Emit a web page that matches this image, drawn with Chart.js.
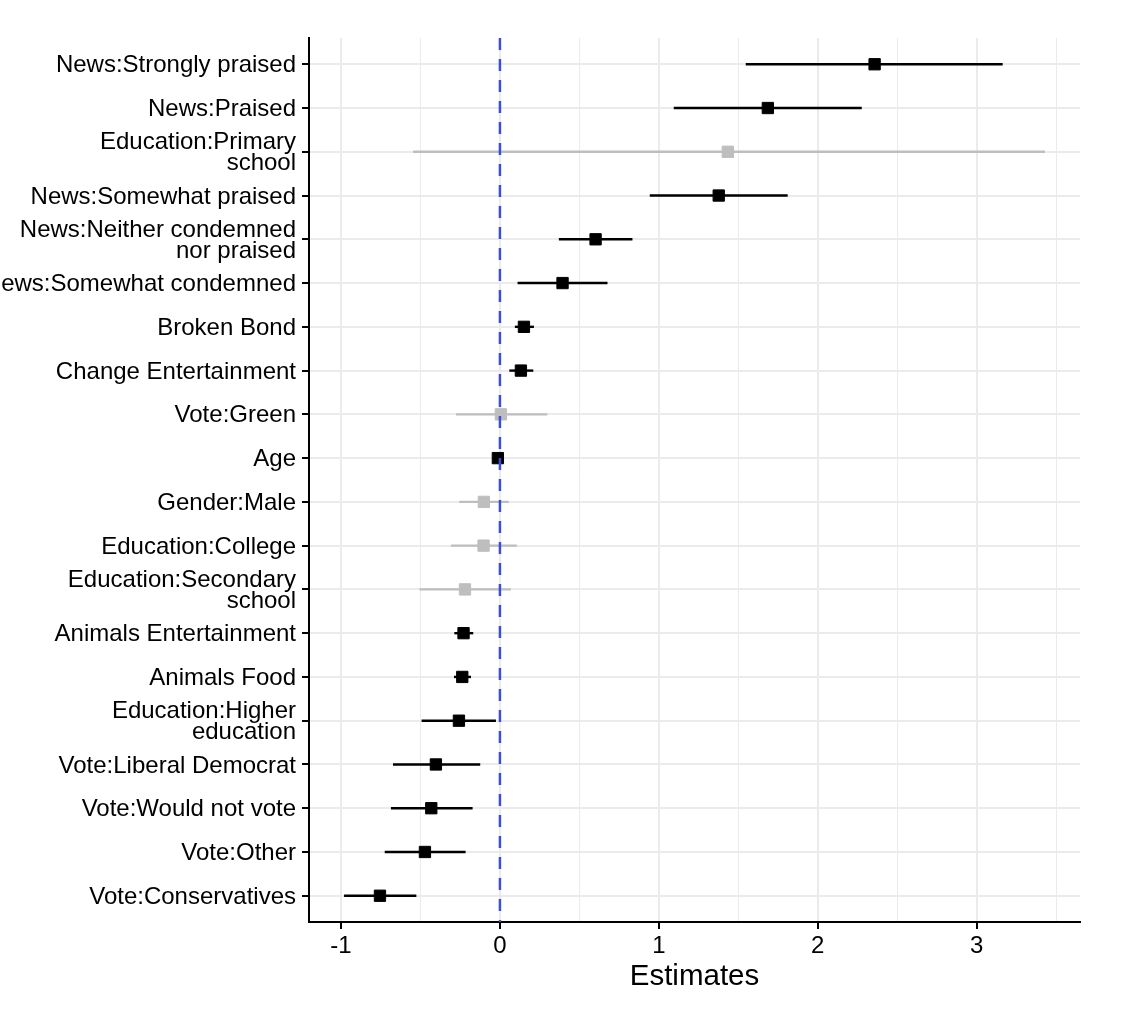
<!DOCTYPE html>
<html>
<head>
<meta charset="utf-8">
<script src="https://cdn.jsdelivr.net/npm/chart.js@4"></script>
<style>
  html, body { margin: 0; padding: 0; background: #ffffff; }
  #wrap { width: 1132px; height: 1022px; }
</style>
</head>
<body>
<div id="wrap"><canvas id="c" width="1132" height="1022"></canvas></div>
<script>
// ---- data (top to bottom) ----
const termLabels = [
  "News:Strongly praised",
  "News:Praised",
  ["Education:Primary", "school"],
  "News:Somewhat praised",
  ["News:Neither condemned", "nor praised"],
  "News:Somewhat condemned",
  "Broken Bond",
  "Change Entertainment",
  "Vote:Green",
  "Age",
  "Gender:Male",
  "Education:College",
  ["Education:Secondary", "school"],
  "Animals Entertainment",
  "Animals Food",
  ["Education:Higher", "education"],
  "Vote:Liberal Democrat",
  "Vote:Would not vote",
  "Vote:Other",
  "Vote:Conservatives"
];
const estimates = [2.358, 1.686, 1.434, 1.377, 0.602, 0.394, 0.151, 0.132, 0.006, -0.013,
                   -0.101, -0.103, -0.220, -0.229, -0.237, -0.258, -0.403, -0.432, -0.472, -0.755];
const ciLow     = [1.547, 1.094, -0.547, 0.943, 0.371, 0.111, 0.094, 0.059, -0.277, -0.020,
                   -0.256, -0.308, -0.507, -0.287, -0.289, -0.493, -0.673, -0.686, -0.725, -0.981];
const ciHigh    = [3.164, 2.277, 3.430, 1.811, 0.834, 0.677, 0.214, 0.210, 0.298, -0.006,
                   0.055, 0.107, 0.069, -0.168, -0.182, -0.025, -0.124, -0.172, -0.216, -0.526];
const significant = [true, true, false, true, true, true, true, true, false, true,
                     false, false, false, true, true, true, true, true, true, true];
const xTickValues = [-1, -0.5, 0, 0.5, 1, 1.5, 2, 2.5, 3, 3.5];
const xMin = -1.2016, xMax = 3.6506;
const refLine = 0;

const SIG = '#000000', NS = '#bebebe';
const FONT = '"Liberation Sans", Arial, Helvetica, sans-serif';

const n = termLabels.length;
const datasets = [];

// reference (zero) line, drawn on top
datasets.push({
  type: 'line',
  data: [{x: refLine, y: 0.4}, {x: refLine, y: n + 0.6}],
  borderColor: '#3b4fd4',
  borderWidth: 2.5,
  borderDash: [12, 9],
  pointRadius: 0,
  fill: false,
  order: 0
});

// point estimates
datasets.push({
  type: 'scatter',
  data: estimates.map((v, i) => ({x: v, y: i + 1})),
  pointStyle: 'rect',
  pointRadius: 8,
  pointBackgroundColor: significant.map(s => s ? SIG : NS),
  pointBorderColor: significant.map(s => s ? SIG : NS),
  pointBorderWidth: 1,
  order: 1
});

// confidence intervals, one segment per term
for (let i = 0; i < n; i++) {
  datasets.push({
    type: 'line',
    data: [{x: ciLow[i], y: i + 1}, {x: ciHigh[i], y: i + 1}],
    borderColor: significant[i] ? SIG : NS,
    borderWidth: 2.4,
    pointRadius: 0,
    fill: false,
    order: 2
  });
}

new Chart(document.getElementById('c'), {
  data: { datasets },
  options: {
    responsive: false,
    animation: false,
    devicePixelRatio: 1,
    layout: { padding: { top: 38, right: 52, bottom: 27, left: 0 } },
    plugins: { legend: { display: false }, tooltip: { enabled: false } },
    scales: {
      x: {
        type: 'linear',
        min: xMin,
        max: xMax,
        afterBuildTicks: (scale) => { scale.ticks = xTickValues.map(v => ({value: v})); },
        afterFit: (scale) => { scale.height = 73; },
        grid: {
          color: '#ebebeb',
          lineWidth: (ctx) => (ctx.tick && Number.isInteger(ctx.tick.value)) ? 2 : 1,
          tickColor: (ctx) => (ctx.tick && Number.isInteger(ctx.tick.value)) ? '#000000' : 'rgba(0,0,0,0)',
          tickLength: 7,
          tickWidth: 2
        },
        border: { display: true, color: '#000000', width: 2 },
        ticks: {
          autoSkip: false,
          maxRotation: 0,
          padding: 3,
          color: '#000000',
          font: { family: FONT, size: 24 },
          callback: (v) => Number.isInteger(v) ? String(v) : ''
        },
        title: {
          display: true,
          text: 'Estimates',
          color: '#000000',
          font: { family: FONT, size: 29.5 },
          padding: { top: 4, bottom: 0 }
        }
      },
      y: {
        type: 'linear',
        reverse: true,
        min: 0.4,
        max: n + 0.6,
        afterBuildTicks: (scale) => { scale.ticks = termLabels.map((_, i) => ({value: i + 1})); },
        afterFit: (scale) => { scale.width = 309; },
        grid: {
          color: '#ebebeb',
          lineWidth: 2,
          tickColor: '#000000',
          tickLength: 7,
          tickWidth: 2
        },
        border: { display: true, color: '#000000', width: 2 },
        ticks: {
          autoSkip: false,
          padding: 6,
          labelOffset: 1.5,
          color: '#000000',
          font: { family: FONT, size: 24, lineHeight: 0.88 },
          callback: (v) => termLabels[Math.round(v) - 1]
        }
      }
    }
  }
});
</script>
</body>
</html>
